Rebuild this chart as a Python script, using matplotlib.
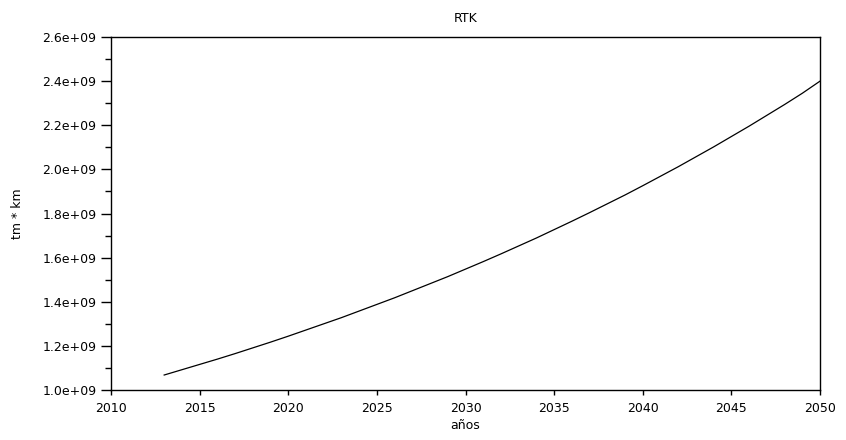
import numpy as np
import matplotlib
matplotlib.use("Agg")
import matplotlib.pyplot as plt
from matplotlib.ticker import MultipleLocator, FormatStrFormatter

# Values (tm * km)
years = list(range(2013, 2051))
rtk = [1.068e9, 1.092e9, 1.116e9, 1.140e9, 1.165e9, 1.191e9, 1.217e9, 1.244e9,
       1.272e9, 1.300e9, 1.328e9, 1.358e9, 1.388e9, 1.418e9, 1.450e9, 1.482e9,
       1.514e9, 1.548e9, 1.582e9, 1.617e9, 1.653e9, 1.689e9, 1.727e9, 1.765e9,
       1.804e9, 1.844e9, 1.884e9, 1.926e9, 1.969e9, 2.012e9, 2.057e9, 2.102e9,
       2.149e9, 2.196e9, 2.245e9, 2.294e9, 2.345e9, 2.400e9]

fig = plt.figure(figsize=(8.46, 4.40), dpi=100)
ax = fig.add_axes([0.1312, 0.1136, 0.8381, 0.8023])

ax.plot(years, rtk, color="black", lw=0.9)

ax.set_xlim(2010, 2050)
ax.set_ylim(1.0e9, 2.6e9)
ax.xaxis.set_major_locator(MultipleLocator(5))
ax.yaxis.set_major_locator(MultipleLocator(0.2e9))
ax.yaxis.set_minor_locator(MultipleLocator(0.1e9))
ax.yaxis.set_major_formatter(FormatStrFormatter("%.1e"))

ax.tick_params(axis="both", which="both", direction="out", top=False, right=False,
               labelsize=9, width=1, color="black")
ax.tick_params(axis="y", which="major", length=7.5, pad=3)
ax.tick_params(axis="y", which="minor", length=4.5)
ax.tick_params(axis="x", which="major", length=3.5, pad=5)
for s in ax.spines.values():
    s.set_linewidth(1)

ax.set_title("RTK", fontsize=9, pad=11)
ax.set_xlabel("años", fontsize=9, labelpad=3)
ax.set_ylabel("tm * km", fontsize=9, labelpad=13)

fig.savefig("out.png", dpi=100)
